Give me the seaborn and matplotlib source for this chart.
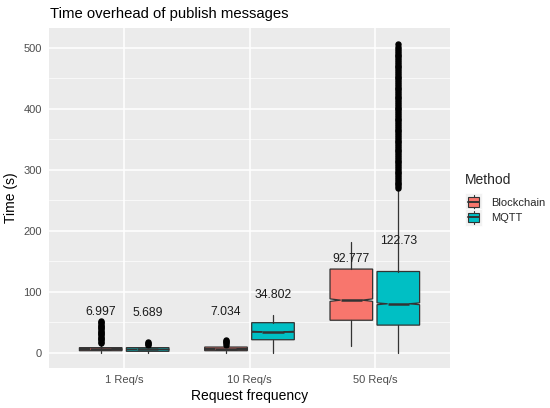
import matplotlib
matplotlib.use("Agg")
import matplotlib.pyplot as plt
import seaborn as sns
import numpy as np
from matplotlib.legend_handler import HandlerBase
from matplotlib.patches import Rectangle
from matplotlib.lines import Line2D

# ---- data ----
categories = ["1 Req/s", "10 Req/s", "50 Req/s"]
methods = ["Blockchain", "MQTT"]
colors = {"Blockchain": "#F8766D", "MQTT": "#00BFC4"}

# box statistics per method, per category
q1 = {"Blockchain": [3, 3, 53], "MQTT": [2, 21, 45]}
med = {"Blockchain": [5.5, 6, 86], "MQTT": [5, 34, 80]}
q3 = {"Blockchain": [8, 9, 137], "MQTT": [8, 49, 133]}
wlo = {"Blockchain": [0, 0, 10], "MQTT": [0, 0, 0]}
whi = {"Blockchain": [15, 12, 181], "MQTT": [11, 61, 267]}
notch_half = {"Blockchain": [0.3, 0.3, 2], "MQTT": [0.3, 0.8, 1.5]}
means = {"Blockchain": [6.997, 7.034, 92.777], "MQTT": [5.689, 34.802, 122.73]}
mean_labels = {"Blockchain": ["6.997", "7.034", "92.777"], "MQTT": ["5.689", "34.802", "122.73"]}

fliers = {
    "Blockchain": [
        [16, 18, 20, 22, 24, 26, 28, 30, 32, 34, 36, 38, 40, 42, 44, 46, 48, 50, 52],
        [13, 15, 17, 19, 21],
        [],
    ],
    "MQTT": [
        [12, 14, 16, 17],
        [],
        [270, 273, 276, 279, 282, 285, 288, 291, 294, 297, 300, 303, 306, 309, 312,
         315, 318, 321, 324, 327, 330, 333, 336, 339, 342, 345, 348, 351, 354, 357,
         360, 363, 366, 369, 372, 375, 378, 381, 384, 387, 390, 393, 396, 399, 402,
         405, 408, 411, 414, 417, 420, 423, 426, 429, 432, 435, 438, 441, 444, 447,
         450, 453, 456, 459, 462, 465, 468, 471, 474, 477, 480, 483, 486, 489, 492,
         495, 498, 502, 507],
    ],
}
yticks = [0, 100, 200, 300, 400, 500]

# ---- style ----
sns.set_theme(style="darkgrid", rc={
    "axes.facecolor": "#EBEBEB",
    "grid.color": "white",
    "figure.facecolor": "white",
})
plt.rcParams["font.family"] = ["Liberation Sans", "DejaVu Sans"]

fig = plt.figure(figsize=(5.5, 4.08), dpi=100)
ax = fig.add_axes([49 / 550, 1 - 368 / 408, (450 - 49) / 550, (368 - 28) / 408])

offsets = {"Blockchain": -0.1875, "MQTT": 0.1875}
box_w = 0.34
for m in methods:
    stats = []
    pos = []
    for i, c in enumerate(categories):
        stats.append(dict(
            med=med[m][i], q1=q1[m][i], q3=q3[m][i],
            whislo=wlo[m][i], whishi=whi[m][i],
            cilo=med[m][i] - notch_half[m][i], cihi=med[m][i] + notch_half[m][i],
            fliers=fliers[m][i], label=c,
        ))
        pos.append(i + offsets[m])
    ax.bxp(stats, positions=pos, widths=box_w, shownotches=True, patch_artist=True,
           showcaps=False, manage_ticks=False,
           boxprops=dict(facecolor=colors[m], edgecolor="#333333", linewidth=0.9),
           medianprops=dict(color="#333333", linewidth=1.8),
           whiskerprops=dict(color="#333333", linewidth=0.9),
           flierprops=dict(marker="o", markerfacecolor="black", markeredgecolor="black",
                           markersize=3.6, linestyle="none"),
           zorder=3)
    for i in range(len(categories)):
        ax.text(i + offsets[m], means[m][i] + 60, mean_labels[m][i],
                ha="center", va="center", fontsize=8.7, color="#1A1A1A", zorder=4)

ax.set_xlim(-0.6, 2.6)
ax.set_ylim(-25.4, 532.7)
ax.set_xticks(range(len(categories)))
ax.set_xticklabels(categories)
ax.set_yticks(yticks)
ax.set_yticks([50, 150, 250, 350, 450], minor=True)
ax.grid(which="major", color="white", linewidth=1.1)
ax.grid(which="minor", axis="y", color="white", linewidth=0.5)
ax.grid(which="major", axis="x", color="white", linewidth=1.1)
for s in ax.spines.values():
    s.set_visible(False)
ax.tick_params(axis="both", which="major", length=3, width=0.8, color="#333333",
               labelsize=8, labelcolor="#4D4D4D", pad=2)
ax.tick_params(axis="both", which="minor", length=0)
ax.set_xlabel("Request frequency", fontsize=10, color="black", labelpad=3)
ax.set_ylabel("Time (s)", fontsize=10, color="black", labelpad=4)
fig.text(50 / 550, 1 - 14 / 408, "Time overhead of publish messages", fontsize=10.7,
         ha="left", va="center", color="black")

KEY = 12.4  # key size in points (~17 px)


class BoxKey(HandlerBase):
    def create_artists(self, legend, orig_handle, xdescent, ydescent, width, height, fontsize, trans):
        cx = -xdescent + width / 2
        cy = -ydescent + height / 2
        x0, y0 = cx - KEY / 2, cy - KEY / 2
        bg = Rectangle((x0, y0), KEY, KEY, facecolor="#F2F2F2",
                       edgecolor="white", lw=0.5, transform=trans)
        v = Line2D([cx, cx], [y0 + KEY * 0.1, y0 + KEY * 0.9], color="#333333", lw=0.8,
                   transform=trans)
        box = Rectangle((x0 + KEY * 0.2, y0 + KEY * 0.22), KEY * 0.6, KEY * 0.56,
                        facecolor=orig_handle.get_facecolor(), edgecolor="#333333", lw=0.8,
                        transform=trans)
        mline = Line2D([x0 + KEY * 0.2, x0 + KEY * 0.8], [cy, cy],
                       color="#333333", lw=1.4, transform=trans)
        return [bg, v, box, mline]


handles = [Rectangle((0, 0), 1, 1, facecolor=colors[m]) for m in methods]
leg = fig.legend(handles, methods, title="Method", loc="center left",
                 bbox_to_anchor=(465 / 550, 1 - 198 / 408), frameon=False,
                 fontsize=8, title_fontsize=10, handler_map={Rectangle: BoxKey()},
                 handlelength=1.53, handletextpad=0.8, labelspacing=0.5,
                 borderaxespad=0, borderpad=0)
leg._legend_box.align = "left"
leg._legend_box.sep = 8

fig.savefig("out.png", dpi=100)
